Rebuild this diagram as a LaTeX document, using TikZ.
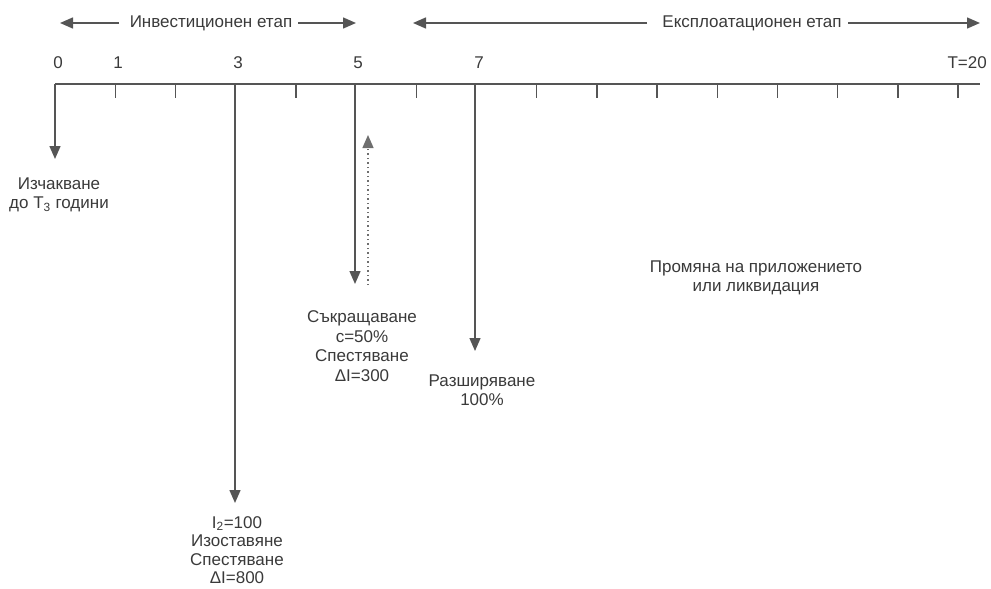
\documentclass[tikz,border=0pt]{standalone}
\usepackage{fontspec}
\setmainfont{Liberation Sans}
\usetikzlibrary{arrows.meta}
\definecolor{linegray}{HTML}{555555}
\definecolor{textgray}{HTML}{3A3A3A}
\begin{document}
\begin{tikzpicture}[x=1pt,y=-1pt,
  ln/.style={draw=linegray, line width=1.4pt},
  arr/.style={ln, -{Triangle[width=11pt,length=13pt]}},
  dotarr/.style={draw=linegray!85, line width=1.3pt, dash pattern=on 1.3pt off 3.2pt, -{Triangle[width=11pt,length=13pt]}},
  lbl/.style={text=textgray, font=\fontsize{17}{19.5}\selectfont, inner sep=0pt, align=center},
  tight/.style={font=\fontsize{17}{18.5}\selectfont},
]
\useasboundingbox (0,0) rectangle (991,589);
% top phase arrows
\node[lbl] (inv) at (211,23) {Инвестиционен етап};
\coordinate (invLs) at (119,23); \coordinate (invLe) at (60,23);
\coordinate (invRs) at (298,23); \coordinate (invRe) at (356,23);
\draw[arr] (invLs) -- (invLe);
\draw[arr] (invRs) -- (invRe);
\node[lbl] (expl) at (752,23) {Експлоатационен етап};
\coordinate (exLs) at (647,23); \coordinate (exLe) at (413,23);
\coordinate (exRs) at (848,23); \coordinate (exRe) at (980,23);
\draw[arr] (exLs) -- (exLe);
\draw[arr] (exRs) -- (exRe);
% numbers
\node[lbl] (n0) at (58,63) {0};
\node[lbl] (n1) at (118,63) {1};
\node[lbl] (n3) at (238,63) {3};
\node[lbl] (n5) at (358,63) {5};
\node[lbl] (n7) at (479,63) {7};
\node[lbl, anchor=east] (nT) at (987,63) {T=20};
% axis
\coordinate (ax0) at (55,84); \coordinate (axE) at (980,84);
\draw[ln] (ax0) -- (axE);
\foreach \k in {1,2,4,6,8,9,10,11,12,13,14,15}
  \draw[ln] ({55+60.2*\k},84) -- ++(0,14);
% vertical arrows
\coordinate (t0) at (55,84);  \coordinate (e0) at (55,159);
\coordinate (t3) at (235,84); \coordinate (e3) at (235,503);
\coordinate (t5) at (355,84); \coordinate (e5) at (355,284);
\coordinate (t7) at (475,84); \coordinate (e7) at (475,351);
\coordinate (d5s) at (368,285); \coordinate (d5e) at (368,135);
\draw[arr] (t0) -- (e0);
\draw[arr] (t3) -- (e3);
\draw[arr] (t5) -- (e5);
\draw[arr] (t7) -- (e7);
\draw[dotarr] (d5s) -- (d5e);
% texts
\node[lbl] (wait) at (59,195) {Изчакване\\до T\textsubscript{3} години};
\node[lbl, tight] (aband) at (237,550) {I\textsubscript{2}=100\\Изоставяне\\Спестяване\\ΔI=800};
\node[lbl] (contr) at (362,346) {Съкращаване\\c=50\%\\Спестяване\\ΔI=300};
\node[lbl] (expand) at (482,390) {Разширяване\\100\%};
\node[lbl] (change) at (756,278) {Промяна на приложението\\или ликвидация};
\end{tikzpicture}
\end{document}
